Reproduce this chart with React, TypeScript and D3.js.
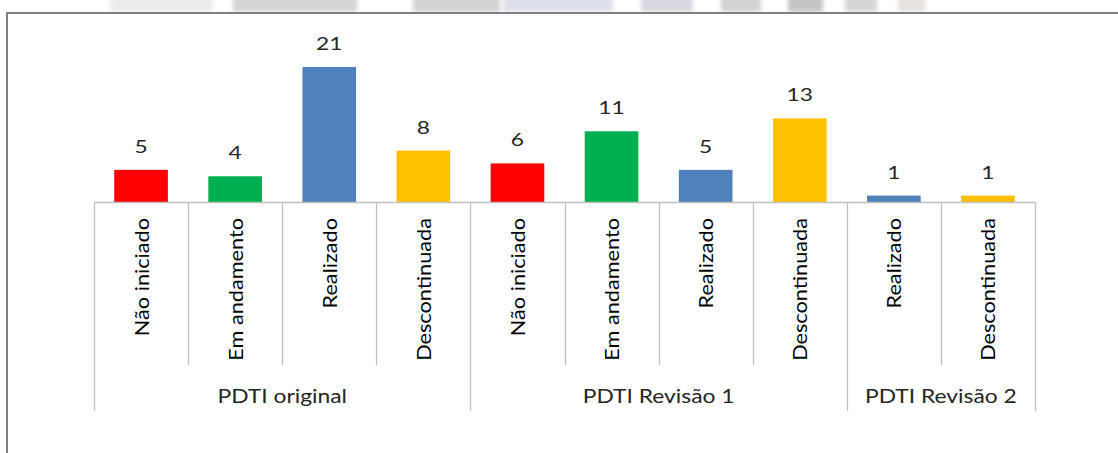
import React from "react";
import * as d3 from "d3";

const groups = ["PDTI original", "PDTI Revisão 1", "PDTI Revisão 2"];
const categories = [
  "Não iniciado", "Em andamento", "Realizado", "Descontinuada",
  "Não iniciado", "Em andamento", "Realizado", "Descontinuada",
  "Realizado", "Descontinuada",
];
const groupOf = [0, 0, 0, 0, 1, 1, 1, 1, 2, 2];
const values = [5, 4, 21, 8, 6, 11, 5, 13, 1, 1];
const statusColors: Record<string, string> = {
  "Não iniciado": "#FF0000",
  "Em andamento": "#00B050",
  "Realizado": "#4F81BD",
  "Descontinuada": "#FFC000",
};

const W = 1118;
const H = 453;
const FONT = "Lato, 'Open Sans', sans-serif";

export default function App() {
  const x0 = 94, x1 = 1035, baseY = 202;
  const x = d3.scaleBand<number>().domain(d3.range(categories.length)).range([x0, x1]).paddingInner(0).paddingOuter(0);
  const y = d3.scaleLinear().domain([0, 21]).range([baseY, 67]);
  const bw = x.bandwidth() * 0.57;
  const gridColor = "#BFBFBF";

  const groupSpans = groups.map((g, gi) => {
    const idx = groupOf.map((v, i) => (v === gi ? i : -1)).filter((i) => i >= 0);
    const start = x(idx[0])!;
    const end = x(idx[idx.length - 1])! + x.bandwidth();
    return { g, start, end };
  });

  const bg = [
    [110, 213, "#ececec"], [233, 357, "#d4d4d4"], [413, 500, "#d2d2d2"], [503, 613, "#dde0ea"],
    [641, 693, "#d8d8e0"], [721, 761, "#d2d2d2"], [788, 823, "#c4c4c4"], [845, 877, "#d6d6d6"], [898, 925, "#e6e2de"],
  ] as [number, number, string][];

  return (
    <svg width={W} height={H} style={{ position: "absolute", left: 0, top: 0, background: "#fff" }}>
      <defs>
        <filter id="blur" x="-10%" y="-50%" width="120%" height="200%">
          <feGaussianBlur stdDeviation="2" />
        </filter>
      </defs>
      <g filter="url(#blur)">
        {bg.map(([a, b, c], i) => (
          <rect key={i} x={a} y={-4} width={b - a} height={16} fill={c} />
        ))}
      </g>
      <rect x={7} y={13} width={W} height={H} fill="#fff" stroke="#808080" strokeWidth={2} />
      {/* bars */}
      {values.map((v, i) => {
        const cx = x(i)! + x.bandwidth() / 2;
        return (
          <g key={i}>
            <rect
              x={x(i)! + (x.bandwidth() - bw) / 2}
              y={y(v)}
              width={bw}
              height={baseY - y(v)}
              fill={statusColors[categories[i]]}
            />
            <text
              transform={`translate(${cx},${y(v) - 17}) scale(1.3,1)`}
              textAnchor="middle"
              fontFamily={FONT}
              fontSize={17.5}
              fill="#262626"
            >
              {v}
            </text>
          </g>
        );
      })}
      {/* axis line */}
      <line x1={x0} x2={x1} y1={baseY + 0.5} y2={baseY + 0.5} stroke={gridColor} strokeWidth={1.3} />
      {/* category dividers */}
      {d3.range(categories.length + 1).map((i) => {
        const xx = i < categories.length ? x(i)! : x1;
        const isGroupEdge = i === 0 || i === categories.length || groupOf[i] !== groupOf[i - 1];
        return (
          <line
            key={i}
            x1={Math.round(xx) + 0.5}
            x2={Math.round(xx) + 0.5}
            y1={baseY}
            y2={isGroupEdge ? 411 : 365}
            stroke={gridColor}
            strokeWidth={1.3}
          />
        );
      })}
      {/* category labels */}
      {categories.map((c, i) => (
        <text
          key={i}
          transform={`translate(${x(i)! + x.bandwidth() / 2 + 7.5},218) rotate(-90) scale(1.085,1)`}
          textAnchor="end"
          fontFamily={FONT}
          fontSize={20}
          fill="#000"
        >
          {c}
        </text>
      ))}
      {/* group labels */}
      {groupSpans.map((s, i) => (
        <text
          key={i}
          transform={`translate(${(s.start + s.end) / 2},403) scale(1.17,1)`}
          textAnchor="middle"
          fontFamily={FONT}
          fontSize={19.5}
          fill="#262626"
        >
          {s.g}
        </text>
      ))}
    </svg>
  );
}
